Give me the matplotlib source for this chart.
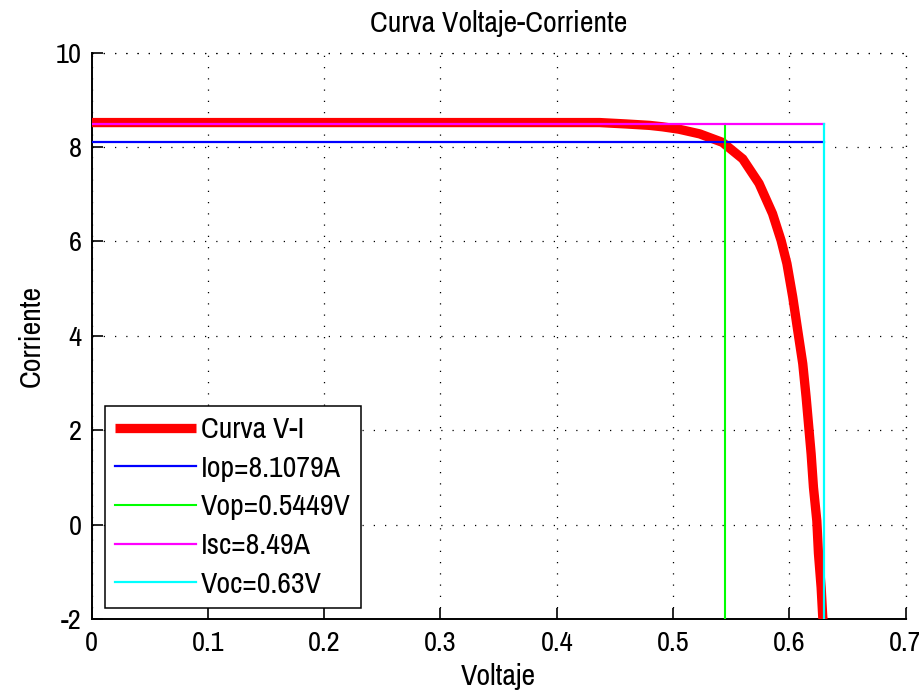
import matplotlib
matplotlib.use("Agg")
import matplotlib.pyplot as plt
from matplotlib import font_manager

# Measured I-V curve of the cell (voltage in V, current in A)
voltage = [0.0, 0.10, 0.20, 0.30, 0.40, 0.437, 0.46, 0.48, 0.491, 0.505,
           0.523, 0.5426, 0.56, 0.574, 0.5856, 0.593, 0.598, 0.603, 0.6073,
           0.6116, 0.6145, 0.6168, 0.6188, 0.6208, 0.6237, 0.6251, 0.6274,
           0.6288, 0.630]
current = [8.52, 8.52, 8.52, 8.52, 8.52, 8.52, 8.49, 8.46, 8.43, 8.38,
           8.28, 8.10, 7.75, 7.23, 6.59, 6.02, 5.53, 4.82, 4.11,
           3.41, 2.70, 2.06, 1.50, 0.79, 0.08, -0.61, -1.33,
           -1.96, -2.20]

# Operating point and limits
i_op = 8.1079
v_op = 0.5449
i_sc = 8.49
v_oc = 0.63

x_ticks = [0, 0.1, 0.2, 0.3, 0.4, 0.5, 0.6, 0.7]
x_tick_labels = ["0", "0.1", "0.2", "0.3", "0.4", "0.5", "0.6", "0.7"]
y_ticks = [-2, 0, 2, 4, 6, 8, 10]
y_tick_labels = ["-2", "0", "2", "4", "6", "8", "10"]

available = {f.name for f in font_manager.fontManager.ttflist}
family = ["Archivo Narrow", "Liberation Sans", "DejaVu Sans"]
family = [f for f in family if f in available] or ["DejaVu Sans"]
plt.rcParams["font.family"] = family
FS = 21.5
TICK_FS = 20.5

fig = plt.figure(figsize=(9.2, 6.91), dpi=100)
ax = fig.add_axes([0.0995, 0.1042, 0.8848, 0.8195])

ax.plot(voltage, current, color="#ff0000", lw=6.7, solid_joinstyle="miter",
        solid_capstyle="butt", label="Curva V-I", zorder=3)
ax.plot([0, v_oc], [i_op, i_op], color="#0000ff", lw=1.6,
        label=f"Iop={i_op}A", zorder=4)
ax.plot([v_op, v_op], [-2, i_sc], color="#00ff00", lw=1.5,
        label=f"Vop={v_op}V", zorder=4)
ax.plot([0, v_oc], [i_sc, i_sc], color="#ff00ff", lw=1.6,
        label=f"Isc={i_sc}A", zorder=4)
ax.plot([v_oc, v_oc], [-2, i_sc], color="#00ffff", lw=1.6,
        label=f"Voc={v_oc}V", zorder=4)

ax.set_xlim(0, 0.7)
ax.set_ylim(-2, 10)
ax.set_xticks(x_ticks)
ax.set_xticklabels(x_tick_labels)
ax.set_yticks(y_ticks)
ax.set_yticklabels(y_tick_labels)
ax.tick_params(direction="in", length=8, width=1.2, labelsize=TICK_FS,
               colors="black")
ax.tick_params(axis="x", pad=8.5)
ax.tick_params(axis="y", pad=7)

for side in ("top", "right"):
    ax.spines[side].set_visible(False)
for side in ("left", "bottom"):
    ax.spines[side].set_linewidth(1.4)

ax.grid(True, color="black", lw=0.9, linestyle=(0, (1, 8)))
ax.set_axisbelow(True)
# dotted frame along the top and right edges
ax.axhline(10, color="black", lw=0.9, linestyle=(0, (1, 8)), clip_on=False)
ax.axvline(0.7, color="black", lw=0.9, linestyle=(0, (1, 8)), clip_on=False)

ax.set_title("Curva Voltaje-Corriente", fontsize=FS, pad=15)
ax.set_xlabel("Voltaje", fontsize=FS, labelpad=5)
ax.set_ylabel("Corriente", fontsize=FS, labelpad=8)

leg = ax.legend(loc="lower left", bbox_to_anchor=(0.016, 0.019),
                fontsize=FS, fancybox=False, framealpha=1,
                edgecolor="black", handlelength=2.7, handletextpad=0.18,
                labelspacing=0.39, borderpad=0.35, borderaxespad=0)
leg.get_frame().set_linewidth(1.1)
leg.set_zorder(10)

fig.savefig("out.png", dpi=100)
